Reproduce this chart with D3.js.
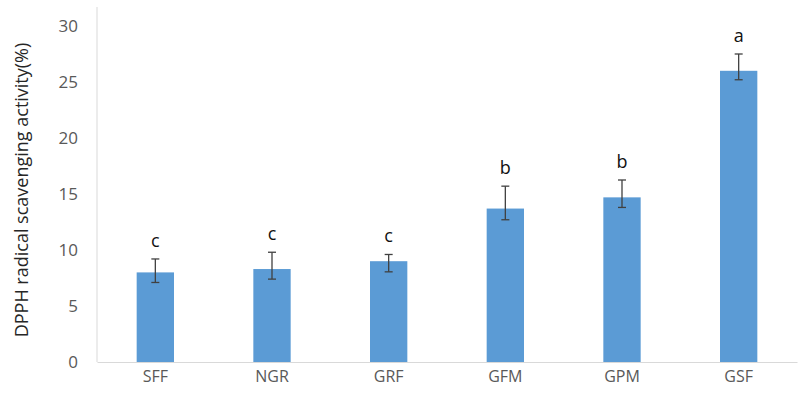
<!DOCTYPE html>
<html><head><meta charset="utf-8">
<script src="https://cdn.jsdelivr.net/npm/d3@7"></script>
<style>body{margin:0;background:#fff}svg{display:block}</style>
</head><body>
<svg id="c" width="800" height="398"></svg>
<script>
const categories = ["SFF","NGR","GRF","GFM","GPM","GSF"];
const values = [8.0, 8.3, 9.0, 13.7, 14.7, 26.0];
const errUp = [1.2, 1.5, 0.6, 2.0, 1.55, 1.5];
const errDown = [0.9, 0.9, 0.95, 1.0, 0.9, 0.8];
const letters = ["c","c","c","b","b","a"];
const yTicks = [0,5,10,15,20,25,30];
const yTitle = "DPPH radical scavenging activity(%)";

const svg = d3.select("#c");
const mLeft = 97, mRight = 797, mTop = 26, mBottom = 362;
const x = d3.scaleBand().domain(categories).range([mLeft, mRight]).paddingInner(0.68).paddingOuter(0.34);
const y = d3.scaleLinear().domain([0,30]).range([mBottom, mTop]);

// y axis line
svg.append("line").attr("x1",mLeft).attr("x2",mLeft).attr("y1",7).attr("y2",mBottom)
  .attr("stroke","#d9d9d9").attr("stroke-width",1);

const yAxis = d3.axisLeft(y).tickValues(yTicks).tickSize(0).tickPadding(19);
const gy = svg.append("g").attr("transform",`translate(${mLeft},0)`).call(yAxis);
gy.select(".domain").remove();
gy.selectAll("text").attr("font-family","Open Sans, sans-serif").attr("font-size",17).attr("fill","#595959");

// bars
svg.append("g").selectAll("rect").data(categories).join("rect")
  .attr("x", d=>x(d)).attr("width", x.bandwidth())
  .attr("y", (d,i)=>y(values[i])).attr("height",(d,i)=>y(0)-y(values[i]))
  .attr("fill","#5b9bd5");

// baseline
const xAxis = d3.axisBottom(x).tickSize(0).tickPadding(9);
const gx = svg.append("g").attr("transform",`translate(0,${mBottom})`).call(xAxis);
gx.select(".domain").attr("stroke","#d9d9d9");
gx.selectAll("text").attr("font-family","Open Sans, sans-serif").attr("font-size",16).attr("fill","#595959");

// error bars
const eg = svg.append("g").attr("stroke","#404040").attr("stroke-width",1.3);
categories.forEach((c,i)=>{
  const cx = x(c)+x.bandwidth()/2;
  const yt = y(values[i]+errUp[i]), yb = y(values[i]-errDown[i]);
  eg.append("line").attr("x1",cx).attr("x2",cx).attr("y1",yt).attr("y2",yb);
  eg.append("line").attr("x1",cx-4).attr("x2",cx+4).attr("y1",yt).attr("y2",yt);
  eg.append("line").attr("x1",cx-4).attr("x2",cx+4).attr("y1",yb).attr("y2",yb);
  svg.append("text").attr("x",cx).attr("y",yt-12).attr("text-anchor","middle")
    .attr("font-family","Open Sans, sans-serif").attr("font-size",18).attr("fill","#111")
    .text(letters[i]);
});

// y title
svg.append("text").attr("transform",`translate(28,190) rotate(-90)`).attr("text-anchor","middle")
  .attr("font-family","Open Sans, sans-serif").attr("font-size",18).attr("fill","#262626")
  .text(yTitle);
</script>
</body></html>
